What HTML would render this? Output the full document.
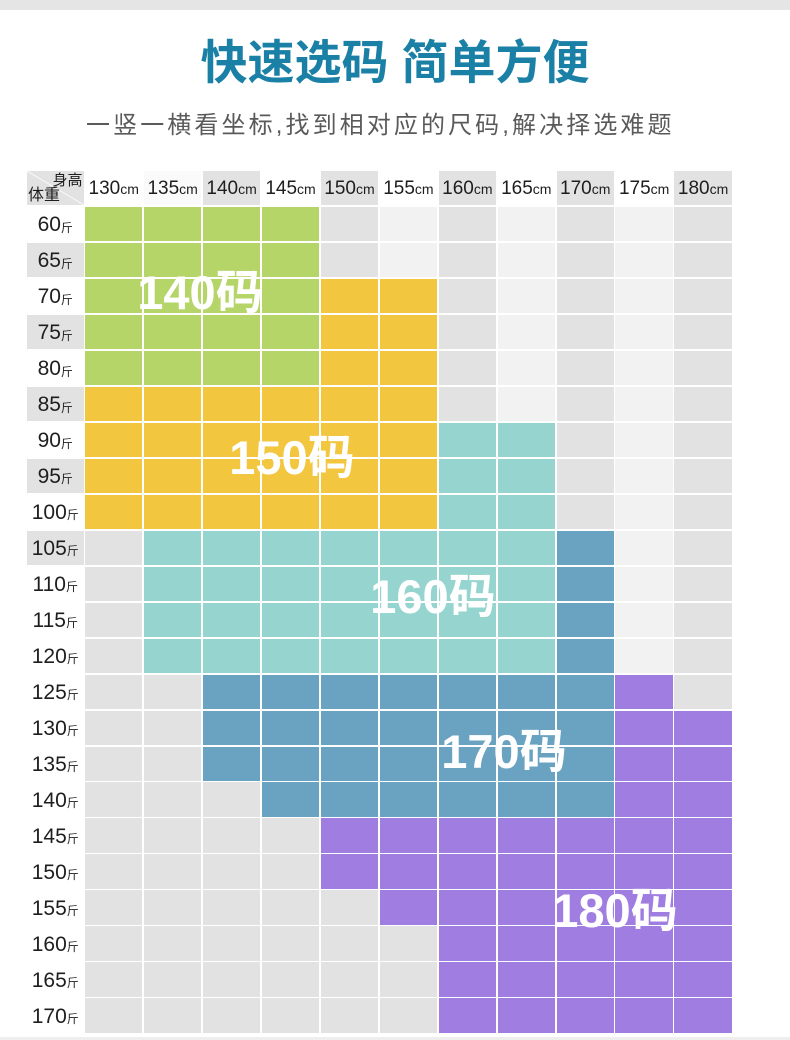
<!DOCTYPE html>
<html><head><meta charset="utf-8">
<style>
*{margin:0;padding:0;box-sizing:border-box}
html,body{width:790px;height:1040px;background:#fff;overflow:hidden;position:relative;font-family:"Liberation Sans","Noto Sans CJK SC",sans-serif}
.top{position:absolute;left:0;top:0;width:790px;height:10px;background:#e5e5e5}
.bot{position:absolute;left:0;top:1037px;width:790px;height:3px;background:#eeeeee}
.title{position:absolute;left:0;top:39px;width:790px;text-align:center;font-size:47px;line-height:47px;font-weight:bold;color:#1b80a6;white-space:nowrap}
.sub{position:absolute;left:86px;top:114px;font-size:24px;line-height:24px;letter-spacing:3.1px;color:#5a5a5a;white-space:nowrap}
.grid{position:absolute;left:27px;top:171px;display:grid;grid-template-columns:56.5px repeat(11,57.45px);column-gap:1.5px;grid-template-rows:repeat(24,34.48px);row-gap:1.5px}
.grid>*{display:block}
.G{background:#b5d568}.Y{background:#f2c63e}.T{background:#96d5cf}.B{background:#69a3c1}.P{background:#a07de0}
.d{background:#e2e2e2}.l{background:#f2f2f2}.w{background:#fff}.w2{background:#fafafa}
.h{display:flex!important;align-items:center;justify-content:center;font-size:19px;color:#1e1e1e;white-space:nowrap;padding-top:2px}
.h small{font-size:14px}
.r{display:flex!important;align-items:center;justify-content:center;font-size:21px;color:#1e1e1e;white-space:nowrap;padding-top:2px}
.r small{font-size:12px;position:relative;top:2px}
.hd{position:relative;background:linear-gradient(to top right,#e2e2e2 calc(50% - 0.8px),#fff 50%,#e2e2e2 calc(50% + 0.8px))}
.hd span{position:absolute;font-size:15px;line-height:15px;color:#1e1e1e;white-space:nowrap}
.big{position:absolute;width:200px;text-align:center;font-size:47px;line-height:46px;font-weight:bold;color:#fff;white-space:nowrap}
</style></head><body>
<div class="top"></div>
<div class="title">快速选码 简单方便</div>
<div class="sub">一竖一横看坐标,找到相对应的尺码,解决择选难题</div>

<div class="grid">
<div class="hd"><span style="right:1px;top:2px">身高</span><span style="left:1px;bottom:1px;font-size:16px;line-height:16px">体重</span></div>
<div class="h w">130<small>cm</small></div><div class="h w2">135<small>cm</small></div><div class="h d">140<small>cm</small></div><div class="h w">145<small>cm</small></div><div class="h d">150<small>cm</small></div><div class="h w">155<small>cm</small></div><div class="h d">160<small>cm</small></div><div class="h w">165<small>cm</small></div><div class="h d">170<small>cm</small></div><div class="h w">175<small>cm</small></div><div class="h d">180<small>cm</small></div>

<div class="r">60<small>斤</small></div><i class="G"></i><i class="G"></i><i class="G"></i><i class="G"></i><i class="d"></i><i class="l"></i><i class="d"></i><i class="l"></i><i class="d"></i><i class="l"></i><i class="d"></i>
<div class="r d">65<small>斤</small></div><i class="G"></i><i class="G"></i><i class="G"></i><i class="G"></i><i class="d"></i><i class="l"></i><i class="d"></i><i class="l"></i><i class="d"></i><i class="l"></i><i class="d"></i>
<div class="r">70<small>斤</small></div><i class="G"></i><i class="G"></i><i class="G"></i><i class="G"></i><i class="Y"></i><i class="Y"></i><i class="d"></i><i class="l"></i><i class="d"></i><i class="l"></i><i class="d"></i>
<div class="r d">75<small>斤</small></div><i class="G"></i><i class="G"></i><i class="G"></i><i class="G"></i><i class="Y"></i><i class="Y"></i><i class="d"></i><i class="l"></i><i class="d"></i><i class="l"></i><i class="d"></i>
<div class="r">80<small>斤</small></div><i class="G"></i><i class="G"></i><i class="G"></i><i class="G"></i><i class="Y"></i><i class="Y"></i><i class="d"></i><i class="l"></i><i class="d"></i><i class="l"></i><i class="d"></i>
<div class="r d">85<small>斤</small></div><i class="Y"></i><i class="Y"></i><i class="Y"></i><i class="Y"></i><i class="Y"></i><i class="Y"></i><i class="d"></i><i class="l"></i><i class="d"></i><i class="l"></i><i class="d"></i>
<div class="r">90<small>斤</small></div><i class="Y"></i><i class="Y"></i><i class="Y"></i><i class="Y"></i><i class="Y"></i><i class="Y"></i><i class="T"></i><i class="T"></i><i class="d"></i><i class="l"></i><i class="d"></i>
<div class="r d">95<small>斤</small></div><i class="Y"></i><i class="Y"></i><i class="Y"></i><i class="Y"></i><i class="Y"></i><i class="Y"></i><i class="T"></i><i class="T"></i><i class="d"></i><i class="l"></i><i class="d"></i>
<div class="r">100<small>斤</small></div><i class="Y"></i><i class="Y"></i><i class="Y"></i><i class="Y"></i><i class="Y"></i><i class="Y"></i><i class="T"></i><i class="T"></i><i class="d"></i><i class="l"></i><i class="d"></i>
<div class="r d">105<small>斤</small></div><i class="d"></i><i class="T"></i><i class="T"></i><i class="T"></i><i class="T"></i><i class="T"></i><i class="T"></i><i class="T"></i><i class="B"></i><i class="l"></i><i class="d"></i>
<div class="r">110<small>斤</small></div><i class="d"></i><i class="T"></i><i class="T"></i><i class="T"></i><i class="T"></i><i class="T"></i><i class="T"></i><i class="T"></i><i class="B"></i><i class="l"></i><i class="d"></i>
<div class="r">115<small>斤</small></div><i class="d"></i><i class="T"></i><i class="T"></i><i class="T"></i><i class="T"></i><i class="T"></i><i class="T"></i><i class="T"></i><i class="B"></i><i class="l"></i><i class="d"></i>
<div class="r">120<small>斤</small></div><i class="d"></i><i class="T"></i><i class="T"></i><i class="T"></i><i class="T"></i><i class="T"></i><i class="T"></i><i class="T"></i><i class="B"></i><i class="l"></i><i class="d"></i>
<div class="r">125<small>斤</small></div><i class="d"></i><i class="d"></i><i class="B"></i><i class="B"></i><i class="B"></i><i class="B"></i><i class="B"></i><i class="B"></i><i class="B"></i><i class="P"></i><i class="d"></i>
<div class="r">130<small>斤</small></div><i class="d"></i><i class="d"></i><i class="B"></i><i class="B"></i><i class="B"></i><i class="B"></i><i class="B"></i><i class="B"></i><i class="B"></i><i class="P"></i><i class="P"></i>
<div class="r">135<small>斤</small></div><i class="d"></i><i class="d"></i><i class="B"></i><i class="B"></i><i class="B"></i><i class="B"></i><i class="B"></i><i class="B"></i><i class="B"></i><i class="P"></i><i class="P"></i>
<div class="r">140<small>斤</small></div><i class="d"></i><i class="d"></i><i class="d"></i><i class="B"></i><i class="B"></i><i class="B"></i><i class="B"></i><i class="B"></i><i class="B"></i><i class="P"></i><i class="P"></i>
<div class="r">145<small>斤</small></div><i class="d"></i><i class="d"></i><i class="d"></i><i class="d"></i><i class="P"></i><i class="P"></i><i class="P"></i><i class="P"></i><i class="P"></i><i class="P"></i><i class="P"></i>
<div class="r">150<small>斤</small></div><i class="d"></i><i class="d"></i><i class="d"></i><i class="d"></i><i class="P"></i><i class="P"></i><i class="P"></i><i class="P"></i><i class="P"></i><i class="P"></i><i class="P"></i>
<div class="r">155<small>斤</small></div><i class="d"></i><i class="d"></i><i class="d"></i><i class="d"></i><i class="d"></i><i class="P"></i><i class="P"></i><i class="P"></i><i class="P"></i><i class="P"></i><i class="P"></i>
<div class="r">160<small>斤</small></div><i class="d"></i><i class="d"></i><i class="d"></i><i class="d"></i><i class="d"></i><i class="d"></i><i class="P"></i><i class="P"></i><i class="P"></i><i class="P"></i><i class="P"></i>
<div class="r">165<small>斤</small></div><i class="d"></i><i class="d"></i><i class="d"></i><i class="d"></i><i class="d"></i><i class="d"></i><i class="P"></i><i class="P"></i><i class="P"></i><i class="P"></i><i class="P"></i>
<div class="r">170<small>斤</small></div><i class="d"></i><i class="d"></i><i class="d"></i><i class="d"></i><i class="d"></i><i class="d"></i><i class="P"></i><i class="P"></i><i class="P"></i><i class="P"></i><i class="P"></i>
</div>

<div class="big" style="left:100px;top:270px">140码</div>
<div class="big" style="left:192px;top:435px">150码</div>
<div class="big" style="left:333px;top:574px">160码</div>
<div class="big" style="left:404px;top:729px">170码</div>
<div class="big" style="left:515px;top:888px">180码</div>

<div class="bot"></div>
</body></html>
